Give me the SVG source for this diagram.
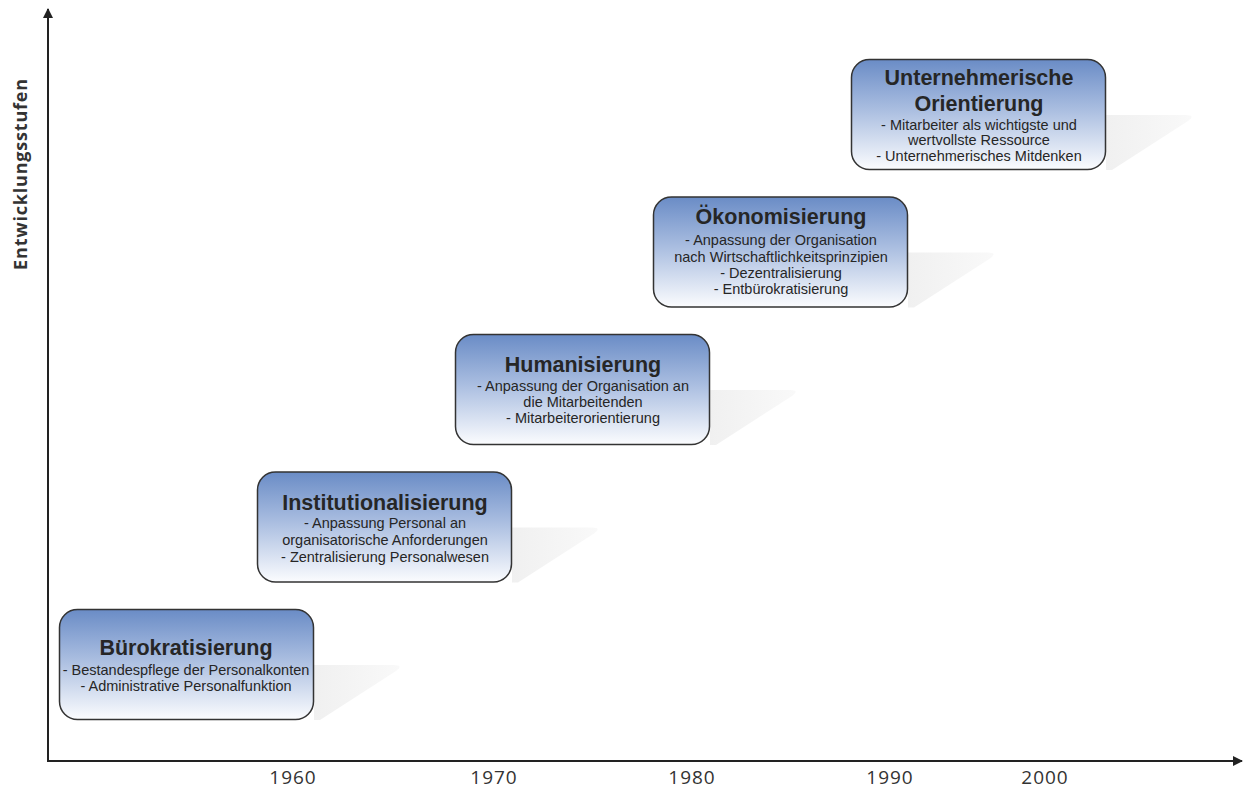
<svg xmlns="http://www.w3.org/2000/svg" width="1243" height="790" viewBox="0 0 1243 790">
<defs>
<linearGradient id="boxg" x1="0" y1="0" x2="0" y2="1">
<stop offset="0" stop-color="#6a8cc6"/>
<stop offset="0.45" stop-color="#a9bde0"/>
<stop offset="1" stop-color="#fbfcfe"/>
</linearGradient>
<linearGradient id="shg" x1="0" y1="0" x2="1" y2="0">
<stop offset="0" stop-color="#f0f0f0"/>
<stop offset="1" stop-color="#f9f9f9"/>
</linearGradient>
<marker id="arr" viewBox="0 0 10 10" refX="9" refY="5" markerWidth="10" markerHeight="10" markerUnits="userSpaceOnUse" orient="auto">
<path d="M0,0 L10,5 L0,10 z" fill="#222"/>
</marker>
<g id="shadow"><path d="M254,56 L334,56 Q344,56 336,62 L260,111 L254,111 z" fill="url(#shg)"/></g>
</defs>
<style>
.box{fill:url(#boxg);stroke:#333;stroke-width:1.5}
.t{font-family:"Liberation Sans",Arial,sans-serif;font-weight:bold;font-size:21.5px;fill:#262626;text-anchor:middle}
.b{font-family:"Liberation Sans",Arial,sans-serif;font-size:14.5px;fill:#262626;text-anchor:middle}
.ax{font-family:"Open Sans","DejaVu Sans",sans-serif;font-size:19px;fill:#333;text-anchor:middle;letter-spacing:1px}
.yl{font-family:"Open Sans","DejaVu Sans",sans-serif;font-weight:bold;font-size:18px;fill:#333;text-anchor:middle;letter-spacing:0.8px}
</style>
<rect width="1243" height="790" fill="#fff"/>
<g id="n1">
<use href="#shadow" x="60" y="609"/>
<rect class="box" x="59.5" y="609.5" width="254" height="110" rx="18"/>
<text class="t" x="186" y="655">Bürokratisierung</text>
<text class="b" x="186" y="675">- Bestandespflege der Personalkonten</text>
<text class="b" x="186" y="691">- Administrative Personalfunktion</text>
</g>
<g id="n2">
<use href="#shadow" x="258" y="471.5"/>
<rect class="box" x="257.5" y="472" width="254" height="110" rx="18"/>
<text class="t" x="385" y="510">Institutionalisierung</text>
<text class="b" x="385" y="528">- Anpassung Personal an</text>
<text class="b" x="385" y="545">organisatorische Anforderungen</text>
<text class="b" x="385" y="562">- Zentralisierung Personalwesen</text>
</g>
<g id="n3">
<use href="#shadow" x="456" y="334"/>
<rect class="box" x="455.5" y="334.5" width="254" height="110" rx="18"/>
<text class="t" x="583" y="372">Humanisierung</text>
<text class="b" x="583" y="391">- Anpassung der Organisation an</text>
<text class="b" x="583" y="407">die Mitarbeitenden</text>
<text class="b" x="583" y="423">- Mitarbeiterorientierung</text>
</g>
<g id="n4">
<use href="#shadow" x="654" y="196.5"/>
<rect class="box" x="653.5" y="197" width="254" height="110" rx="18"/>
<text class="t" x="781" y="224">Ökonomisierung</text>
<text class="b" x="781" y="245">- Anpassung der Organisation</text>
<text class="b" x="781" y="262">nach Wirtschaftlichkeitsprinzipien</text>
<text class="b" x="781" y="278">- Dezentralisierung</text>
<text class="b" x="781" y="294">- Entbürokratisierung</text>
</g>
<g id="n5">
<use href="#shadow" x="852" y="59"/>
<rect class="box" x="851.5" y="59.5" width="254" height="110" rx="18"/>
<text class="t" x="979" y="85">Unternehmerische</text>
<text class="t" x="979" y="111">Orientierung</text>
<text class="b" x="979" y="130">- Mitarbeiter als wichtigste und</text>
<text class="b" x="979" y="145">wertvollste Ressource</text>
<text class="b" x="979" y="161">- Unternehmerisches Mitdenken</text>
</g>
<g id="connectors" stroke="#222" stroke-width="2" fill="none">
<line x1="48" y1="762" x2="48" y2="9" marker-end="url(#arr)"/>
<line x1="47" y1="761" x2="1242" y2="761" marker-end="url(#arr)"/>
</g>
<g id="labels">
<text class="yl" transform="translate(27,174) rotate(-90)">Entwicklungsstufen</text>
<text class="ax" x="293" y="784">1960</text>
<text class="ax" x="494" y="784">1970</text>
<text class="ax" x="692" y="784">1980</text>
<text class="ax" x="890" y="784">1990</text>
<text class="ax" x="1045" y="784">2000</text>
</g>
</svg>
